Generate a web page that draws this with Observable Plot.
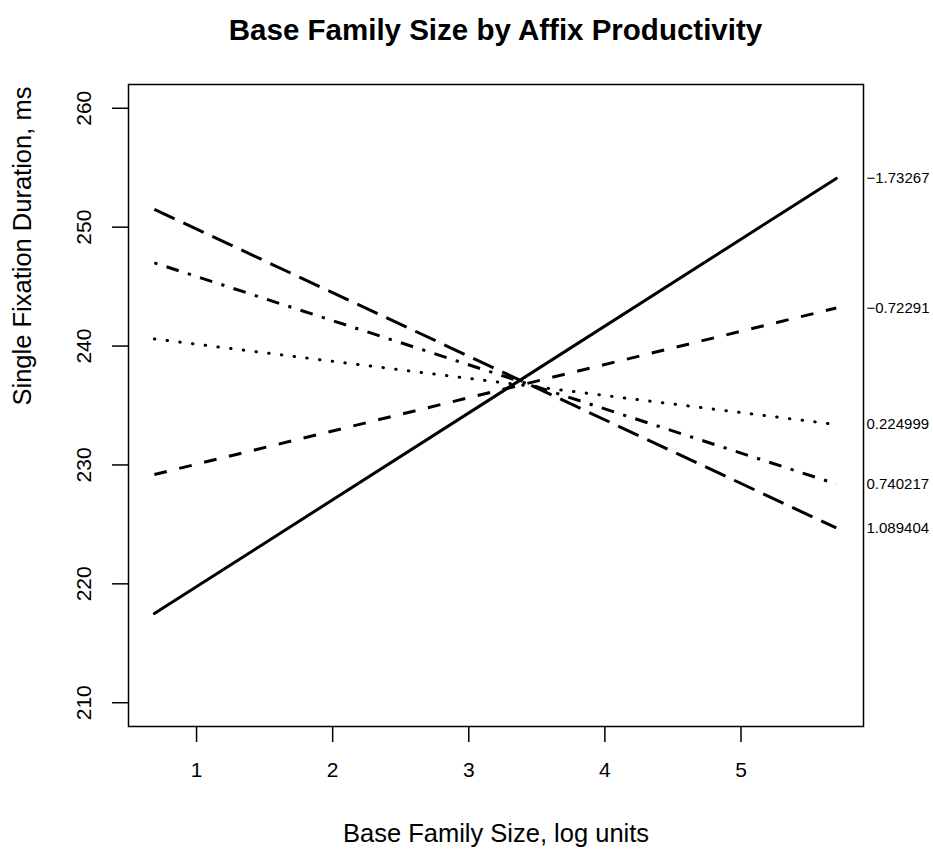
<!DOCTYPE html>
<html><head><meta charset="utf-8">
<script src="https://cdn.jsdelivr.net/npm/d3@7"></script>
<script src="https://cdn.jsdelivr.net/npm/@observablehq/plot@0.6"></script>
<style>
body{margin:0;background:#fff;font-family:"Liberation Sans",Arial,sans-serif;}
#title{width:933px;height:60px;box-sizing:border-box;padding-left:128px;padding-right:70px;text-align:center;font-weight:bold;font-size:29.5px;line-height:60px;color:#000;}
</style></head><body>
<div id="title">Base Family Size by Affix Productivity</div>
<div id="chart"></div>
<script>
// Data
const productivity = ["\u22121.73267", "\u22120.72291", "0.224999", "0.740217", "1.089404"];
const xStart = 0.69;
const xEnd = 5.70;
const startValues = [217.5, 229.2, 240.6, 247.0, 251.5];
const endValues   = [254.1, 243.2, 233.4, 228.4, 224.7];
const xTicks = [1, 2, 3, 4, 5];
const yTicks = [210, 220, 230, 240, 250, 260];

// Line styles (R lty 1..5)
const dashes = [null, "12.8,12.8", "0.5,12.3", "3.2,9.6,12.8,9.6", "22.4,9.6"];
const caps = ["round", "butt", "round", "butt", "butt"];

const rows = productivity.flatMap((p, i) => [
  {series: p, x: xStart, y: startValues[i]},
  {series: p, x: xEnd, y: endValues[i]}
]);
const endLabels = productivity.map((p, i) => ({label: p, y: endValues[i]}));

const lineMarks = productivity.map((p, i) =>
  Plot.line(rows.filter(r => r.series === p), {
    x: "x", y: "y", stroke: "black", strokeWidth: 3,
    strokeDasharray: dashes[i] ?? undefined, strokeLinecap: caps[i]
  })
);

const chart = Plot.plot({
  width: 933, height: 790,
  marginLeft: 128, marginRight: 70, marginTop: 24, marginBottom: 124,
  x: {domain: [0.5, 5.9]},
  y: {domain: [208, 262]},
  style: {fontFamily: "'Liberation Sans', Arial, sans-serif", color: "black", background: "white", overflow: "visible"},
  marks: [
    Plot.frame({stroke: "black", strokeWidth: 1.5}),
    Plot.axisX(xTicks, {tickSize: 16, tickPadding: 20, fontSize: 21, label: null, strokeWidth: 1.5, tickFormat: d => String(d)}),
    Plot.axisY(yTicks, {tickSize: 16, tickFormat: () => "", label: null, strokeWidth: 1.5}),
    Plot.text(yTicks, {y: d => d, text: d => String(d), frameAnchor: "left", dx: -44, rotate: -90,
      textAnchor: "middle", lineAnchor: "middle", fontSize: 21}),
    ...lineMarks,
    Plot.text(endLabels, {y: "y", text: "label", frameAnchor: "right", dx: 3, textAnchor: "start", fontSize: 15}),
    Plot.text(["Base Family Size, log units"], {text: d => d, frameAnchor: "bottom", dy: 107, fontSize: 25.5, lineAnchor: "middle"}),
    Plot.text(["Single Fixation Duration, ms"], {text: d => d, frameAnchor: "left", dx: -106, rotate: -90, fontSize: 25.5, lineAnchor: "middle"})
  ]
});
document.getElementById("chart").appendChild(chart);
</script>
</body></html>
